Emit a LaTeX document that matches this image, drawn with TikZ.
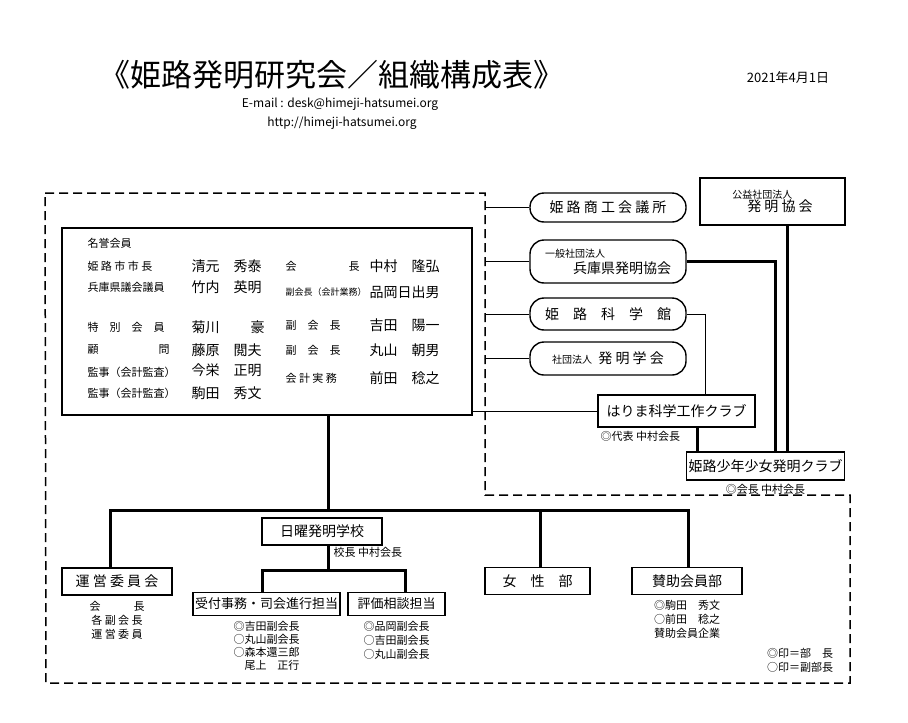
\documentclass[tikz,border=0pt]{standalone}
\usepackage{fontspec}
\setmainfont{Noto Sans CJK JP}
\usetikzlibrary{positioning}
\tikzset{
  sqbox/.style={draw, line width=1.6pt, minimum height=27pt, inner sep=2pt, font=\fontsize{14}{16}\selectfont},
  rbox/.style={draw, line width=1.4pt, rounded corners=14pt, minimum width=156pt, inner sep=3pt, font=\fontsize{14}{16}\selectfont},
  thick line/.style={line width=3pt},
  thin line/.style={line width=1pt},
  note/.style={font=\fontsize{11}{14}\selectfont, align=center},
  small/.style={font=\fontsize{11}{13}\selectfont, anchor=west},
  person/.style={anchor=west, font=\fontsize{14}{16}\selectfont}
}
\begin{document}
\begin{tikzpicture}[x=1pt, y=-1pt]
\useasboundingbox (0,0) rectangle (908,723);
\node (title) at (332,75) {\fontsize{31}{34}\selectfont 《姫路発明研究会／組織構成表》};
\node (date) at (788,78) {\fontsize{13}{15}\selectfont 2021年4月1日};
\node (mail) at (340,104) {\fontsize{12}{14}\selectfont E-mail : desk@himeji-hatsumei.org};
\node (web) at (342,123) {\fontsize{12}{14}\selectfont http://himeji-hatsumei.org};
% outer dashed region
\draw[dash pattern=on 9pt off 5pt, line width=1.5pt] (45,193) -- (485,193) -- (485,495) -- (850,495) -- (850,683) -- (46,683) -- cycle;
% main box
\node[draw, line width=1.8pt, minimum width=410pt, minimum height=187pt] (main) at (267,321.5) {};
\node[small] (h0) at (84,243) {名誉会員};
\node[small] (h1) at (84,266) {姫 路 市 市 長};
\node[small] (h2) at (84,287) {兵庫県議会議員};
\node[small] (h3) at (84,327) {特\quad 別\quad 会\quad 員};
\node[small] (h4) at (84,350) {顧\hspace{60pt}問};
\node[small] (h5) at (84,372) {監事（会計監査）};
\node[small] (h6) at (84,393) {監事（会計監査）};
\foreach \y/\n in {266/清元\quad 秀泰, 287/竹内\quad 英明, 327/菊川\quad\quad\ 豪, 350/藤原\quad 閲夫, 370/今栄\quad 正明, 393/駒田\quad 秀文}
  \node[person] at (188,\y) {\n};
\node[small] (o1) at (282,266) {会\hspace{52pt}長};
\node[small, font=\fontsize{9}{11}\selectfont] (o2) at (282,292) {副会長（会計業務）};
\node[small] (o3) at (282,325) {副\quad 会\quad 長};
\node[small] (o4) at (282,350) {副\quad 会\quad 長};
\node[small] (o5) at (282,378) {会 計 実 務};
\foreach \y/\n in {266/中村\quad 隆弘, 292/品岡日出男, 325/吉田\quad 陽一, 350/丸山\quad 朝男, 378/前田\quad 稔之}
  \node[person] at (366,\y) {\n};
% right side organisations
\node[rbox, minimum height=29pt] (shoko) at (608,207.5) {姫 路 商 工 会 議 所};
\node[rbox, minimum height=43pt, align=left] (hyogo) at (608,261.5) {{\fontsize{10}{12}\selectfont 一般社団法人}\\\hspace{2em}兵庫県発明協会};
\node[rbox, minimum height=32pt] (kagakukan) at (608,314) {姫\quad 路\quad 科\quad 学\quad 館};
\node[rbox, minimum height=33pt] (gakkai) at (608,358.5) {{\fontsize{10}{12}\selectfont 社団法人}\ \ 発 明 学 会};
\node[draw, line width=1.6pt, minimum width=145pt, minimum height=47pt, align=left] (kyokai) at (772.5,201.5) {{\fontsize{10}{12}\selectfont 公益社団法人}\\\hspace{1.5em}{\fontsize{14}{16}\selectfont 発 明 協 会}};
\node[sqbox, minimum width=157pt, minimum height=32pt] (harima) at (676.5,411) {はりま科学工作クラブ};
\node[note, anchor=north west] (harimanote) at (harima.south west) {◎代表 中村会長};
\node[sqbox, minimum width=155pt, minimum height=28pt] (shonen) at (765.5,466) {姫路少年少女発明クラブ};
\node[note, below=0pt of shonen] (shonennote) {◎会長 中村会長};
\foreach \n in {shoko, hyogo, kagakukan, gakkai}
  \draw[thin line] (\n.west) -- (485,0 |- \n.west);
\draw[thin line] (main.east |- harima.west) -- (harima.west);
\draw[thin line] (kagakukan.east) -- (705,314) -- (705,0 |- harima.north);
\draw[thick line] (hyogo.east) -- (775,261.5) -- (775,0 |- shonen.north);
\draw[thick line] (kyokai.south -| 787,0) -- (787,0 |- shonen.north);
\draw[thick line] (harima.south -| 697,0) -- (697,0 |- shonen.north);
% lower tree
\node[sqbox, minimum width=120pt] (nichiyo) at (322,531.5) {日曜発明学校};
\node[note, anchor=north west] (nichiyonote) at (330,544) {校長 中村会長};
\node[sqbox, minimum width=110pt] (unei) at (117,581.5) {運 営 委 員 会};
\node[sqbox, minimum width=105pt] (josei) at (537.5,581) {女\quad 性\quad 部};
\node[sqbox, minimum width=110pt] (sanjo) at (687,581) {賛助会員部};
\node[sqbox, minimum width=143pt, minimum height=23pt, font=\fontsize{13}{15}\selectfont] (uketsuke) at (266.5,604) {受付事務・司会進行担当};
\node[sqbox, minimum width=97pt, minimum height=23pt, font=\fontsize{13}{15}\selectfont] (hyoka) at (396.5,604) {評価相談担当};
\draw[thick line] (main.south -| 328,0) -- (328,510);
\draw[thick line] (110,0 |- unei.north) -- (110,510) -- (688,510) -- (688,0 |- sanjo.north);
\draw[thick line] (540,510) -- (540,0 |- josei.north);
\draw[thick line] (328,0 |- nichiyo.south) -- (328,570);
\draw[thick line] (262,0 |- uketsuke.north) -- (262,570) -- (405,570) -- (405,0 |- hyoka.north);
\node[note, below=2pt of unei] (uneinote) {会\hspace{3em}長\\各 副 会 長\\運 営 委 員};
\node[note, below=1pt of uketsuke, align=left, font=\fontsize{11}{13}\selectfont] (uketsukenote) {◎吉田副会長\\○丸山副会長\\○森本還三郎\\\hspace{1em}尾上\quad 正行};
\node[note, below=1pt of hyoka, align=left] (hyokanote) {◎品岡副会長\\○吉田副会長\\○丸山副会長};
\node[note, below=1pt of sanjo, align=left] (sanjonote) {◎駒田\quad 秀文\\○前田\quad 稔之\\賛助会員企業};
\node[note, align=left] (legend) at (800,660) {◎印＝部\quad 長\\○印＝副部長};
\end{tikzpicture}
\end{document}
